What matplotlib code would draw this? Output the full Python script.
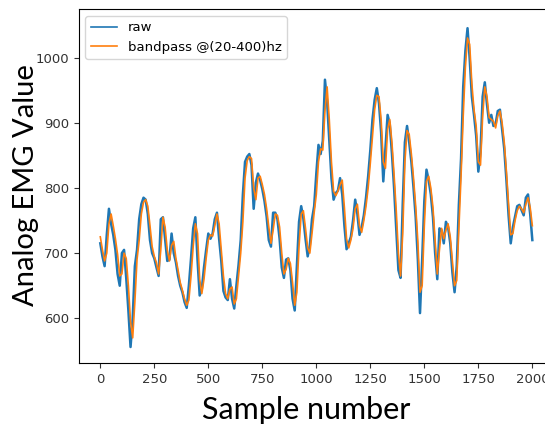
import matplotlib
matplotlib.use("Agg")
import matplotlib.pyplot as plt
import numpy as np

# sample index (every 10 samples) and values
samples = list(range(0, 2001, 10))

raw = [
    715, 695, 680, 728, 768, 745, 728, 705, 668, 650,
    700, 705, 662, 612, 556, 600, 680, 705, 752, 775,
    785, 782, 760, 720, 700, 692, 678, 665, 752, 755,
    722, 688, 690, 730, 700, 686, 665, 650, 640, 625,
    616, 650, 692, 738, 755, 690, 635, 645, 678, 705,
    730, 722, 730, 752, 762, 722, 688, 642, 632, 628,
    660, 630, 615, 650, 682, 720, 790, 840, 848, 852,
    835, 768, 808, 822, 812, 798, 780, 756, 720, 710,
    762, 762, 752, 722, 678, 662, 690, 692, 674, 630,
    612, 680, 748, 772, 753, 722, 695, 712, 752, 772,
    822, 866, 852, 872, 966, 932, 872, 815, 782, 792,
    796, 815, 790, 742, 706, 715, 725, 750, 782, 760,
    728, 740, 758, 785, 818, 858, 905, 935, 953, 930,
    885, 810, 860, 912, 898, 853, 800, 738, 674, 662,
    775, 870, 895, 870, 840, 800, 755, 690, 608, 690,
    780, 828, 812, 790, 755, 700, 660, 738, 735, 715,
    748, 740, 715, 670, 640, 680, 775, 845, 955, 1010,
    1045, 998, 940, 912, 880, 825, 855, 940, 962, 928,
    900, 912, 895, 898, 918, 920, 890, 860, 812, 758,
    715, 740, 756, 772, 774, 766, 758, 785, 790, 760,
    720,
]

bandpass = [
    725, 705, 688, 700, 745, 760, 742, 722, 698, 665,
    668, 700, 692, 650, 595, 570, 625, 690, 720, 760,
    778, 782, 772, 742, 710, 695, 685, 668, 705, 755,
    740, 705, 688, 712, 718, 692, 674, 655, 643, 630,
    620, 628, 665, 710, 745, 730, 660, 638, 660, 692,
    720, 728, 726, 742, 760, 745, 705, 665, 638, 630,
    645, 648, 622, 630, 665, 700, 748, 815, 842, 848,
    845, 800, 782, 815, 818, 805, 790, 768, 740, 715,
    735, 760, 758, 740, 700, 668, 675, 692, 684, 655,
    620, 640, 710, 760, 765, 738, 708, 700, 730, 762,
    790, 840, 860, 858, 918, 955, 905, 840, 795, 788,
    795, 805, 812, 770, 722, 708, 720, 738, 768, 775,
    742, 732, 750, 772, 800, 838, 880, 920, 942, 940,
    905, 840, 830, 890, 905, 870, 820, 765, 700, 665,
    730, 840, 888, 882, 852, 815, 772, 718, 640, 650,
    742, 810, 818, 800, 770, 720, 668, 705, 738, 722,
    735, 745, 725, 688, 650, 658, 738, 818, 910, 985,
    1030, 1020, 960, 920, 895, 840, 835, 910, 955, 940,
    908, 905, 902, 892, 910, 918, 900, 870, 825, 775,
    728, 730, 750, 765, 772, 768, 762, 775, 785, 770,
    742,
]

fig = plt.figure(figsize=(5.45, 4.26), dpi=100)
# axes run past the right edge, like the cropped reference
ax = fig.add_axes([0.1444, 0.1472, 0.872, 0.831])

ax.plot(samples, raw, color="#1f77b4", linewidth=1.8, label="raw")
ax.plot(samples, bandpass, color="#ff7f0e", linewidth=1.2, label="bandpass @(20-400)hz")

ax.set_xlim(-100, 2100)
ax.set_ylim(531, 1074)
ax.set_xticks([0, 250, 500, 750, 1000, 1250, 1500, 1750, 2000])
ax.set_yticks([600, 700, 800, 900, 1000])
ax.tick_params(labelsize=9.5, colors="#333333")

leg = ax.legend(loc="upper left", fontsize=9.5)
for line in leg.get_lines():
    line.set_linewidth(1.2)

fig.text(26 / 545, 1 - 185 / 426, "Analog EMG Value", family="Lato",
         fontsize=21, rotation=90, ha="center", va="center")
fig.text(306 / 545, 1 - 410 / 426, "Sample number", family="Lato",
         fontsize=22, ha="center", va="center")

fig.savefig("out.png", dpi=100)
